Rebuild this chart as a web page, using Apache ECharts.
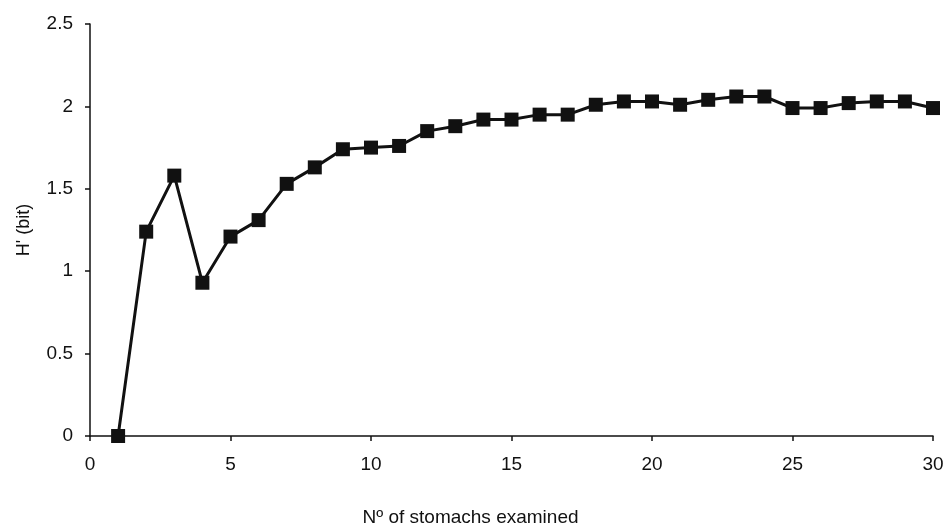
<!DOCTYPE html>
<html>
<head>
<meta charset="utf-8">
<script src="https://cdn.jsdelivr.net/npm/echarts@6/dist/echarts.min.js"></script>
<style>
    html, body { margin: 0; padding: 0; background: #fff; }
    #main { width: 948px; height: 527px; }
</style>
</head>
<body>
<div id="main"></div>
<script>
// number of stomachs examined
var stomachs = [1, 2, 3, 4, 5, 6, 7, 8, 9, 10, 11, 12, 13, 14, 15,
    16, 17, 18, 19, 20, 21, 22, 23, 24, 25, 26, 27, 28, 29, 30];
// cumulative diversity H' (bit)
var diversity = [0, 1.24, 1.58, 0.93, 1.21, 1.31, 1.53, 1.63, 1.74, 1.75, 1.76, 1.85, 1.88, 1.92, 1.92,
    1.95, 1.95, 2.01, 2.03, 2.03, 2.01, 2.04, 2.06, 2.06, 1.99, 1.99, 2.02, 2.03, 2.03, 1.99];

var xName = 'Nº of stomachs examined';
var yName = 'H\' (bit)';

function initEcharts(){
    var myChart = echarts.init(document.getElementById('main'));
    var points = [];
    for (var i = 0; i < stomachs.length; i++) {
        points.push([stomachs[i], diversity[i]]);
    }
    var font = 'Liberation Sans, Arial, sans-serif';
    var option = {
        backgroundColor: '#fff',
        animation: false,
        grid: {
            left: 90,
            right: 15,
            top: 24,
            bottom: 91,
            containLabel: false,
            outerBoundsMode: 'none'
        },
        xAxis: {
            type: 'value',
            min: 0,
            max: 30,
            interval: 5,
            name: xName,
            nameLocation: 'middle',
            nameGap: 72,
            nameTextStyle: { color: '#111', fontSize: 19, fontFamily: font, padding: [0, 82, 0, 0] },
            axisLine: { show: true, lineStyle: { color: '#111', width: 1.5 } },
            axisTick: { show: true, length: 5, lineStyle: { color: '#111', width: 1.5 } },
            axisLabel: { color: '#111', fontSize: 19, fontFamily: font, margin: 19 },
            splitLine: { show: false }
        },
        yAxis: {
            type: 'value',
            min: 0,
            max: 2.5,
            interval: 0.5,
            name: yName,
            nameLocation: 'middle',
            nameGap: 57,
            nameTextStyle: { color: '#111', fontSize: 18, fontFamily: font },
            axisLine: { show: true, lineStyle: { color: '#111', width: 1.5 } },
            axisTick: { show: true, length: 5, lineStyle: { color: '#111', width: 1.5 } },
            axisLabel: { color: '#111', fontSize: 19, fontFamily: font, margin: 17 },
            splitLine: { show: false }
        },
        series: [{
            name: yName,
            type: 'line',
            data: points,
            symbol: 'rect',
            symbolSize: 14,
            itemStyle: { color: '#111' },
            lineStyle: { color: '#111', width: 3 }
        }]
    };
    myChart.setOption(option);
}

initEcharts();
</script>
</body>
</html>
